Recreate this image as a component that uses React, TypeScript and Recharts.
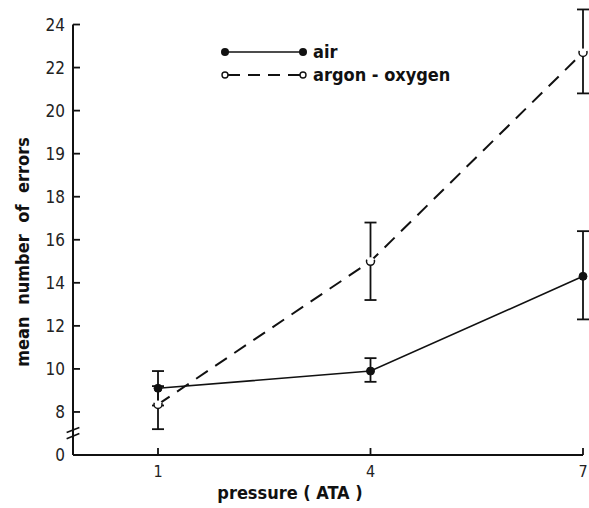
import { ErrorBar, Legend, Line, LineChart, ReferenceLine, XAxis, YAxis } from "recharts";

const pressure = [1, 4, 7];
const airMean = [9.1, 9.9, 14.3];
const airLow = [8.3, 9.4, 12.3];
const airHigh = [9.9, 10.5, 16.4];
const argonMean = [8.35, 15.0, 22.7];
const argonLow = [7.2, 13.2, 20.8];
const argonHigh = [9.2, 16.8, 24.7];
const yTickLabels = [0, 8, 10, 12, 14, 16, 18, 19, 20, 22, 24];
const xTicks = [1, 4, 7];

const font = "'Liberation Sans Narrow', 'DejaVu Sans Condensed', 'Arial Narrow', sans-serif";
const ink = "#111";

// the printed axis is evenly spaced although its labels are not,
// so every value is placed on the tick slots (below 8 the axis is broken)
function toSlot(v: number) {
  if (v <= 8) return 1 - (8 - v) / 2;
  if (v >= 24) return 10 + (v - 24) / 2;
  for (let i = 1; i < yTickLabels.length - 1; i++) {
    const a = yTickLabels[i];
    const b = yTickLabels[i + 1];
    if (v >= a && v <= b) return i + (v - a) / (b - a);
  }
  return 0;
}

function build(mean: number[], low: number[], high: number[]) {
  return pressure.map((p, i) => {
    const m = toSlot(mean[i]);
    return { x: p, y: m, err: [m - toSlot(low[i]), toSlot(high[i]) - m] };
  });
}

const air = build(airMean, airLow, airHigh);
const argon = build(argonMean, argonLow, argonHigh);

const YTick = ({ x, y, payload }: any) => (
  <g>
    {payload.value > 0 && <line x1={x} x2={x + 7} y1={y} y2={y} stroke={ink} strokeWidth={1.8} />}
    <text x={x - 8} y={y} dy={6} textAnchor="end" fontSize={17} fontFamily={font} fill="#222">
      {yTickLabels[payload.value]}
    </text>
  </g>
);

const XTick = ({ x, y, payload }: any) => (
  <g>
    <line x1={x} x2={x} y1={y} y2={y - 7} stroke={ink} strokeWidth={1.8} />
    <text x={x} y={y + 22} textAnchor="middle" fontSize={16} fontFamily={font} fill="#222">
      {payload.value}
    </text>
  </g>
);

const LegendBox = () => (
  <svg width={240} height={50}>
    <line x1={6} x2={84} y1={12} y2={12} stroke={ink} strokeWidth={1.6} />
    <circle cx={6} cy={12} r={4} fill={ink} />
    <circle cx={84} cy={12} r={4} fill={ink} />
    <text x={94} y={18} fontSize={18} fontWeight="bold" fontFamily={font} fill={ink}>
      air
    </text>
    <line x1={9} x2={81} y1={35} y2={35} stroke={ink} strokeWidth={1.8} strokeDasharray="12 8" />
    <circle cx={6} cy={35} r={3} fill="#fff" stroke={ink} strokeWidth={1.4} />
    <circle cx={84} cy={35} r={3} fill="#fff" stroke={ink} strokeWidth={1.4} />
    <text x={94} y={41} fontSize={18} fontWeight="bold" fontFamily={font} fill={ink}>
      argon - oxygen
    </text>
  </svg>
);

export default function App() {
  return (
    <div style={{ position: "absolute", left: 0, top: 0, width: 589, height: 508, background: "#fff" }}>
      <LineChart width={589} height={508} margin={{ top: 3, right: 6, bottom: 0, left: 0 }}>
        <XAxis
          type="number"
          dataKey="x"
          domain={[-0.2, 7]}
          ticks={xTicks}
          height={53}
          tickSize={0}
          tickMargin={0}
          tickLine={false}
          tick={<XTick />}
          axisLine={{ stroke: ink, strokeWidth: 2 }}
        />
        <YAxis
          type="number"
          dataKey="y"
          domain={[0, 10.5]}
          ticks={yTickLabels.map((_, i) => i)}
          width={73}
          tickSize={0}
          tickMargin={0}
          tickLine={false}
          axisLine={false}
          tick={<YTick />}
        />
        <ReferenceLine
          segment={[{ x: -0.2, y: 0 }, { x: -0.2, y: 10 }]}
          stroke={ink}
          strokeWidth={2}
          ifOverflow="visible"
        />
        <ReferenceLine
          segment={[{ x: -0.29, y: 0.38 }, { x: -0.11, y: 0.5 }]}
          stroke={ink}
          strokeWidth={1.6}
          ifOverflow="visible"
        />
        <ReferenceLine
          segment={[{ x: -0.29, y: 0.52 }, { x: -0.11, y: 0.64 }]}
          stroke={ink}
          strokeWidth={1.6}
          ifOverflow="visible"
        />
        <Legend
          layout="horizontal"
          verticalAlign="middle"
          align="center"
          content={<LegendBox />}
          wrapperStyle={{ left: 219, top: 40, width: 240 }}
        />
        <Line
          data={air}
          dataKey="y"
          name="air"
          stroke={ink}
          strokeWidth={1.6}
          dot={{ r: 4, fill: ink, stroke: ink, strokeWidth: 1 }}
          isAnimationActive={false}
        >
          <ErrorBar dataKey="err" direction="y" width={6} stroke={ink} strokeWidth={1.8} />
        </Line>
        <Line
          data={argon}
          dataKey="y"
          name="argon - oxygen"
          stroke={ink}
          strokeWidth={2}
          strokeDasharray="14 9"
          dot={{ r: 4, fill: "#fff", stroke: ink, strokeWidth: 1.5 }}
          isAnimationActive={false}
        >
          <ErrorBar dataKey="err" direction="y" width={6} stroke={ink} strokeWidth={1.8} />
        </Line>
      </LineChart>
      <div
        style={{
          position: "absolute",
          left: 22,
          top: 252,
          transform: "translate(-50%, -50%) rotate(-90deg)",
          whiteSpace: "nowrap",
          fontFamily: font,
          fontWeight: "bold",
          fontSize: 18,
          color: ink,
          wordSpacing: 6,
        }}
      >
        mean number of errors
      </div>
      <div
        style={{
          position: "absolute",
          left: 290,
          top: 492,
          transform: "translate(-50%, -50%)",
          whiteSpace: "nowrap",
          fontFamily: font,
          fontWeight: "bold",
          fontSize: 18,
          color: ink,
        }}
      >
        pressure ( ATA )
      </div>
    </div>
  );
}
